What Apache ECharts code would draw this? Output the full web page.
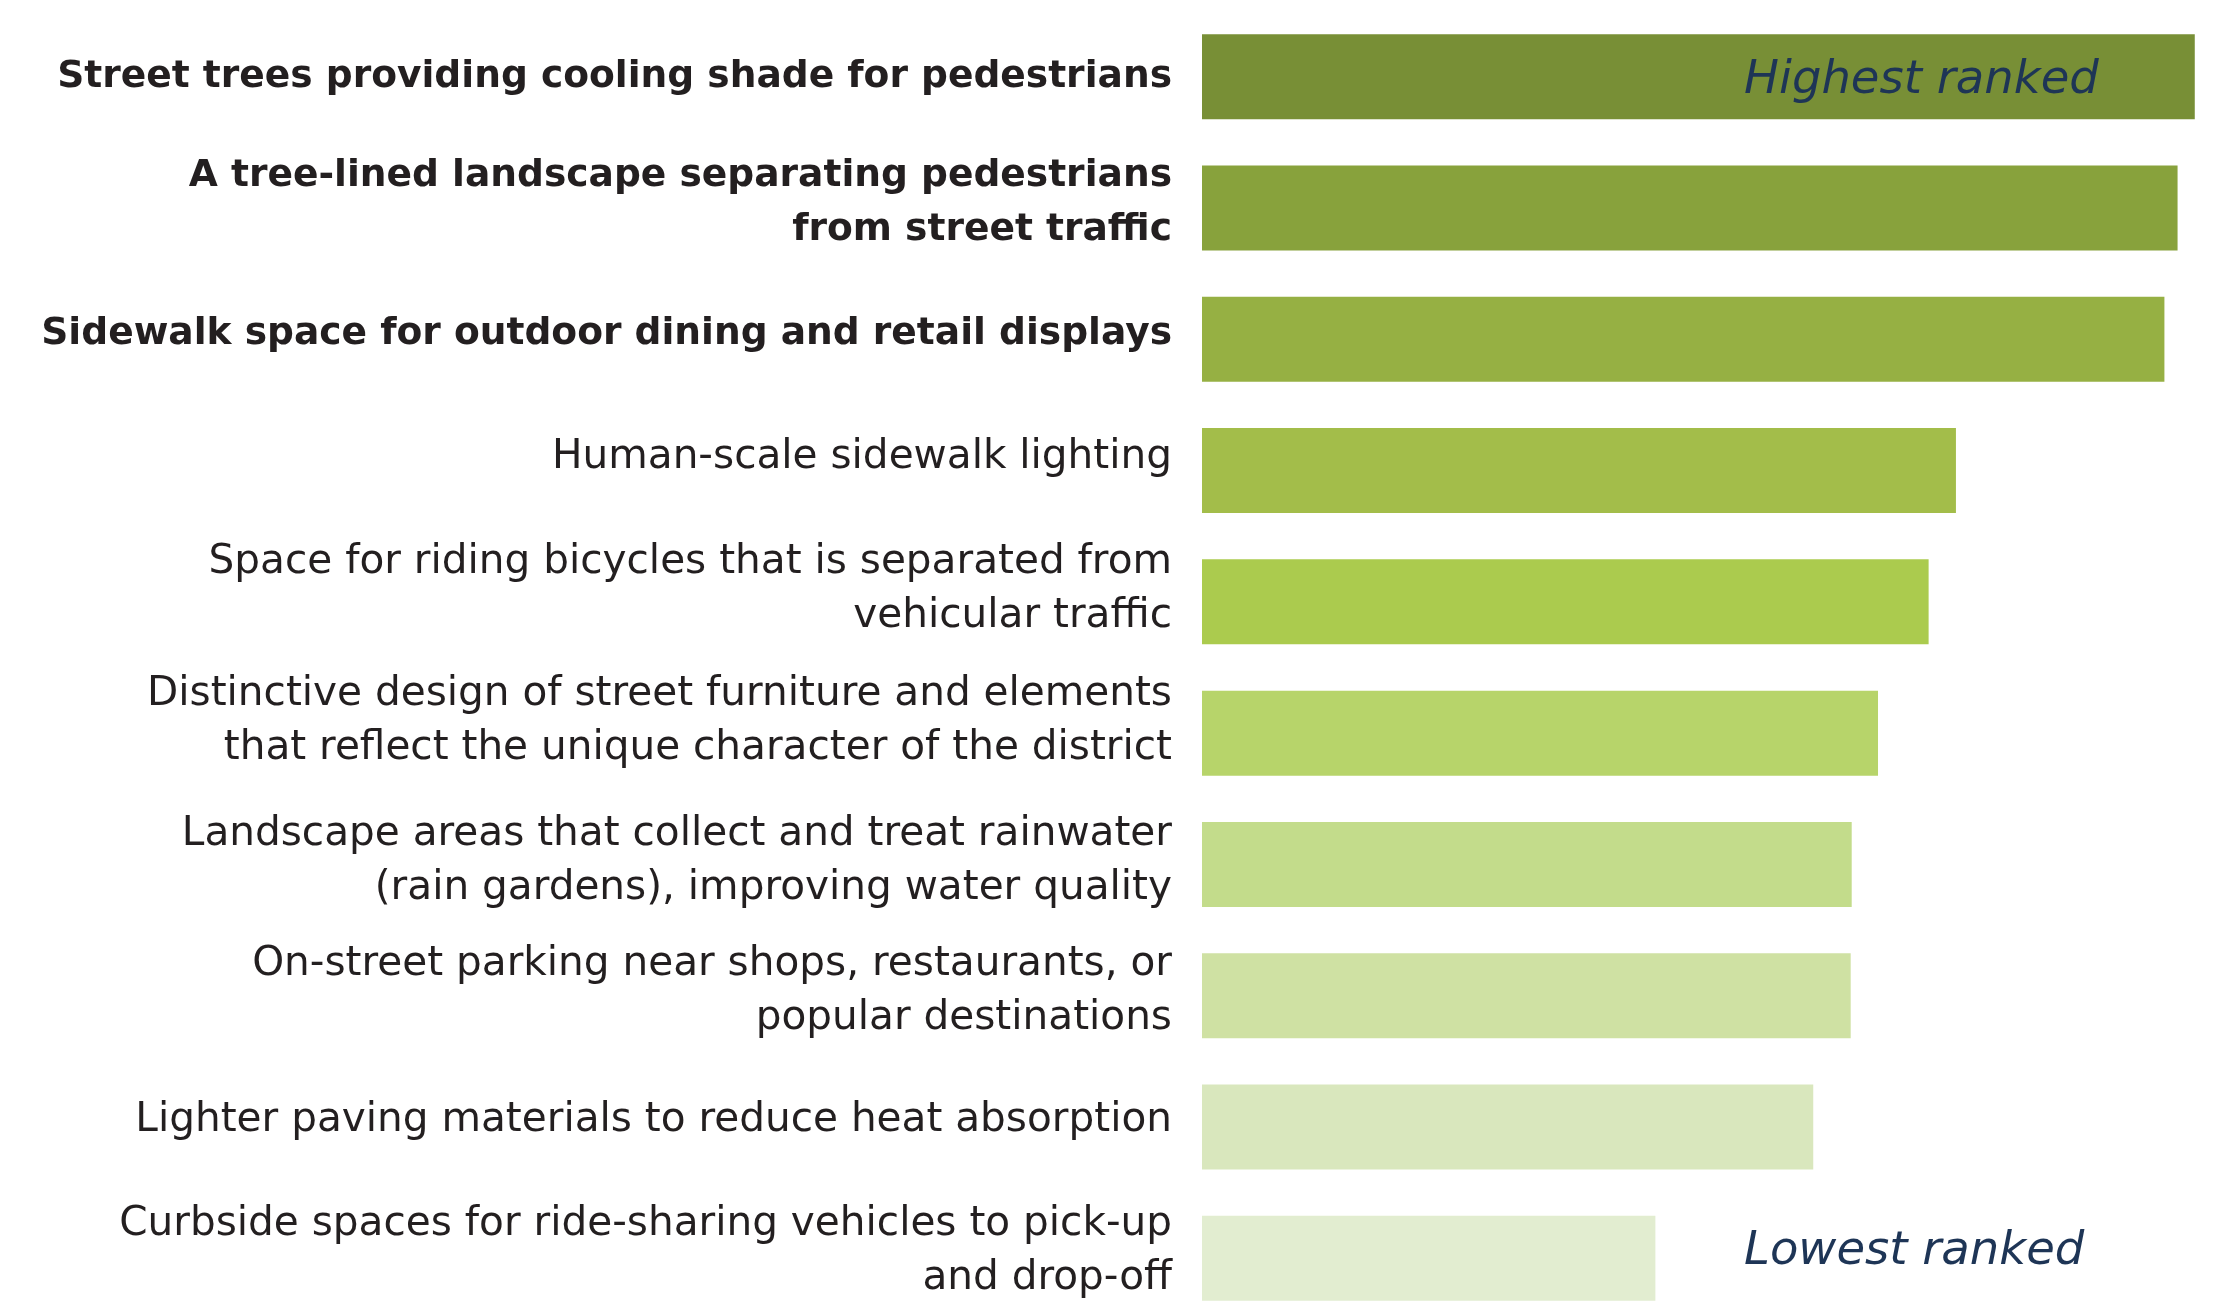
<!DOCTYPE html>
<html>
<head>
<meta charset="utf-8">
<script src="https://cdn.jsdelivr.net/npm/echarts@6/dist/echarts.min.js"></script>
<style>
  html, body { margin: 0; padding: 0; background: #ffffff; }
  #chart { width: 2214px; height: 1313px; }
</style>
</head>
<body>
<div id="chart"></div>
<script>
// Streetscape features, highest ranked first
const categories = [
  'Street trees providing cooling shade for pedestrians',
  'A tree-lined landscape separating pedestrians\nfrom street traffic',
  'Sidewalk space for outdoor dining and retail displays',
  'Human-scale sidewalk lighting',
  'Space for riding bicycles that is separated from\nvehicular traffic',
  'Distinctive design of street furniture and elements\nthat reflect the unique character of the district',
  'Landscape areas that collect and treat rainwater\n(rain gardens), improving water quality',
  'On-street parking near shops, restaurants, or\npopular destinations',
  'Lighter paving materials to reduce heat absorption',
  'Curbside spaces for ride-sharing vehicles to pick-up\nand drop-off'
];
const scores = [98.1, 96.4, 95.1, 74.5, 71.8, 66.8, 64.2, 64.1, 60.4, 44.8];
const boldCount = 3;
const barColors = ['#788f36', '#88a23c', '#96b043', '#a3bd4a', '#abcb4e',
                   '#b7d46a', '#c3dc8b', '#cfe1a3', '#d9e7bd', '#e2edd0'];
const topNote = 'Highest ranked';
const bottomNote = 'Lowest ranked';

// small vertical nudges of each feature label (px, negative = up)
const labelNudge = [1, -5, -5, -13, -12, -12, -3, -4, -7, -7];

const chart = echarts.init(document.getElementById('chart'));

const labelFont = 'DejaVu Sans';

const option = {
  animation: false,
  backgroundColor: '#ffffff',
  grid: {
    left: 1202, right: 0, top: 11, height: 1313,
    containLabel: false,
    outerBoundsMode: 'none'
  },
  xAxis: {
    type: 'value', min: 0, max: 100,
    show: false
  },
  yAxis: {
    type: 'category',
    inverse: true,
    data: categories,
    axisLine: { show: false },
    axisTick: { show: false },
    splitLine: { show: false },
    axisLabel: { show: false }
  },
  series: [{
    type: 'bar',
    barWidth: 85,
    silent: true,
    label: {
      show: true,
      position: 'left',
      distance: 30,
      align: 'right',
      verticalAlign: 'middle',
      color: '#231f20',
      fontFamily: labelFont,
      lineHeight: 54,
      formatter: p => categories[p.dataIndex]
    },
    data: scores.map((v, i) => ({
      value: v,
      itemStyle: { color: barColors[i] },
      label: i < boldCount
        ? { fontWeight: 'bold', fontSize: 37.6, offset: [0, labelNudge[i]] }
        : { fontWeight: 'normal', fontSize: 40.6, offset: [0, labelNudge[i]] }
    }))
  }]
};
chart.setOption(option);

// place the two italic notes beside the first and last bars
const yTop = chart.convertToPixel({ yAxisIndex: 0 }, 0);
const yBottom = chart.convertToPixel({ yAxisIndex: 0 }, categories.length - 1);
const noteStyle = {
  fill: '#1e3556',
  fontFamily: labelFont,
  fontStyle: 'italic',
  fontSize: 46.5,
  align: 'left',
  verticalAlign: 'middle'
};
chart.setOption({
  graphic: [
    { type: 'text', x: 1744, y: yTop + 4, style: Object.assign({ text: topNote }, noteStyle), z: 10 },
    { type: 'text', x: 1744, y: yBottom - 6, style: Object.assign({ text: bottomNote }, noteStyle), z: 10 }
  ]
});
</script>
</body>
</html>
